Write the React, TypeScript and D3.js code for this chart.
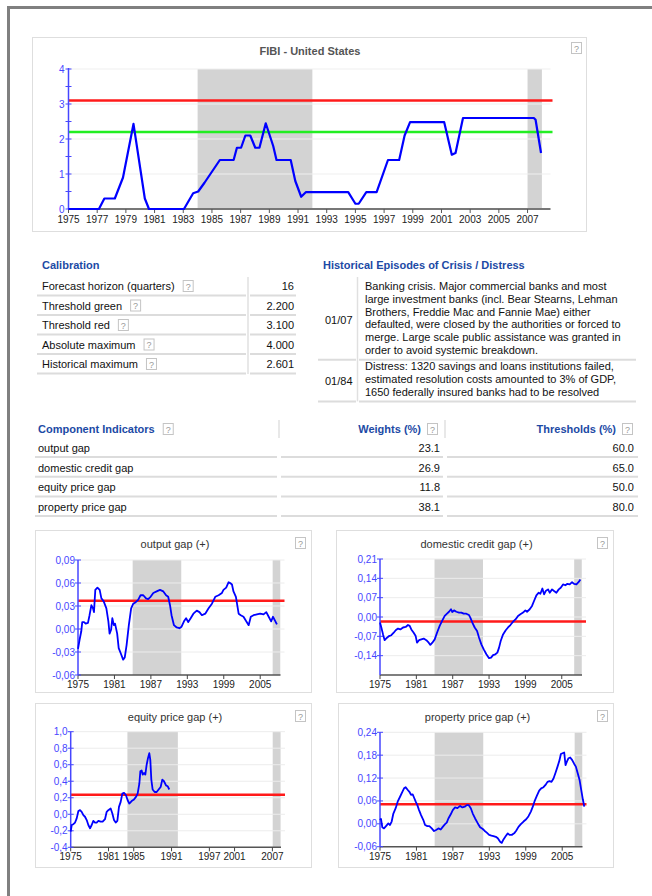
import React, { useEffect, useRef } from "react";
import * as d3 from "d3";

const W = 652;
const H = 896;
const FONT = "'Liberation Sans', Arial, Helvetica, sans-serif";
const HEAD_BLUE = "#1c4aa5";
const AXIS_BLUE = "#4646ff";
const SHADE = "#d3d3d3";

// FIBI composite indicator (United States)
const fibiYears = [1975, 1977.12, 1977.5, 1978.23, 1978.8, 1979.53, 1980.32, 1980.61, 1983.05, 1983.69, 1984.04, 1984.48, 1985.55, 1986.51, 1986.74, 1987.03, 1987.33, 1987.67, 1988.02, 1988.31, 1988.75, 1989.27, 1989.5, 1990.49, 1990.81, 1991.22, 1991.54, 1994.5, 1995.0, 1995.23, 1995.76, 1996.48, 1997.27, 1998.05, 1998.43, 1998.81, 2001.19, 2001.72, 2001.98, 2002.5, 2007.44, 2007.56, 2007.94];
const fibiValues = [0, 0, 0.3, 0.3, 0.9, 2.43, 0.3, 0, 0, 0.45, 0.5, 0.75, 1.4, 1.4, 1.75, 1.75, 2.1, 2.1, 1.75, 1.75, 2.45, 1.8, 1.4, 1.4, 0.8, 0.35, 0.48, 0.48, 0.15, 0.15, 0.48, 0.48, 1.4, 1.4, 2.1, 2.48, 2.48, 1.55, 1.6, 2.6, 2.6, 2.55, 1.6];
const fibiGreen = 2.2;
const fibiRed = 3.1;
const fibiYTicks = [0, 1, 2, 3, 4];
const fibiXTicks = [1975, 1977, 1979, 1981, 1983, 1985, 1987, 1989, 1991, 1993, 1995, 1997, 1999, 2001, 2003, 2005, 2007];
const mainCrisisStart = [1984, 2007];
const mainCrisisEnd = [1992, 2008];
const gapCrisisStart = [1984, 2007.05];
const gapCrisisEnd = [1992, 2008.3];

// calibration table
const calibLabels = ["Forecast horizon (quarters)", "Threshold green", "Threshold red", "Absolute maximum", "Historical maximum"];
const calibValues = ["16", "2.200", "3.100", "4.000", "2.601"];

// historical episodes
const episodeDates = ["01/07", "01/84"];
const episodeLines = [
  [
    "Banking crisis. Major commercial banks and most",
    "large investment banks (incl. Bear Stearns, Lehman",
    "Brothers, Freddie Mac and Fannie Mae) either",
    "defaulted, were closed by the authorities or forced to",
    "merge. Large scale public assistance was granted in",
    "order to avoid systemic breakdown.",
  ],
  [
    "Distress: 1320 savings and loans institutions failed,",
    "estimated resolution costs amounted to 3% of GDP,",
    "1650 federally insured banks had to be resolved",
  ],
];

// component indicators
const componentNames = ["output gap", "domestic credit gap", "equity price gap", "property price gap"];
const componentWeights = [23.1, 26.9, 11.8, 38.1];
const componentThresholds = [60.0, 65.0, 50.0, 80.0];

// output gap
const ogYears = [1975.0, 1975.26, 1975.54, 1975.7, 1976.0, 1976.26, 1976.64, 1976.9, 1977.2, 1977.47, 1977.63, 1977.85, 1978.2, 1978.57, 1978.85, 1979.23, 1979.67, 1980.0, 1980.2, 1980.45, 1980.65, 1980.9, 1981.1, 1981.45, 1981.7, 1982.05, 1982.43, 1982.7, 1983.0, 1983.37, 1983.75, 1984.1, 1984.5, 1984.9, 1985.3, 1985.75, 1986.2, 1986.55, 1986.95, 1987.4, 1987.95, 1988.5, 1989.05, 1989.5, 1989.85, 1990.15, 1990.4, 1990.8, 1991.25, 1991.7, 1992.05, 1992.45, 1992.8, 1993.15, 1993.55, 1994.0, 1994.55, 1995.0, 1995.4, 1995.95, 1996.5, 1997.05, 1997.6, 1998.15, 1998.7, 1998.95, 1999.4, 1999.8, 2000.05, 2000.35, 2000.6, 2001.0, 2001.45, 2001.8, 2002.25, 2002.7, 2003.1, 2003.45, 2003.9, 2004.45, 2005.0, 2005.55, 2006.0, 2006.4, 2006.8, 2007.1, 2007.5, 2007.75];
const ogValues = [-0.026, -0.014, -0.003, 0.009, 0.009, 0.007, 0.008, 0.018, 0.031, 0.027, 0.022, 0.051, 0.054, 0.051, 0.040, 0.036, 0.027, 0.010, -0.006, -0.001, 0.014, 0.005, 0.007, -0.006, -0.025, -0.032, -0.040, -0.037, -0.021, 0.005, 0.027, 0.033, 0.035, 0.038, 0.044, 0.044, 0.040, 0.039, 0.042, 0.047, 0.049, 0.051, 0.049, 0.044, 0.042, 0.031, 0.018, 0.005, 0.002, 0.001, 0.003, 0.010, 0.014, 0.009, 0.014, 0.020, 0.024, 0.022, 0.018, 0.020, 0.027, 0.033, 0.042, 0.044, 0.047, 0.051, 0.054, 0.061, 0.060, 0.058, 0.049, 0.042, 0.020, 0.018, 0.016, 0.010, 0.005, 0.016, 0.018, 0.019, 0.020, 0.019, 0.022, 0.016, 0.010, 0.016, 0.010, 0.006];
const ogThreshold = 0.037;
const ogYTicks = [-0.06, -0.03, 0, 0.03, 0.06, 0.09];

// domestic credit gap
const dcYears = [1975.0, 1975.22, 1975.5, 1975.77, 1976.16, 1976.49, 1976.87, 1977.26, 1977.59, 1977.97, 1978.36, 1978.8, 1979.24, 1979.62, 1979.9, 1980.17, 1980.56, 1980.89, 1981.11, 1981.44, 1981.82, 1982.21, 1982.65, 1983.04, 1983.31, 1983.64, 1984.03, 1984.41, 1984.85, 1985.29, 1985.68, 1986.06, 1986.39, 1986.72, 1986.94, 1987.22, 1987.6, 1988.04, 1988.43, 1988.81, 1989.25, 1989.69, 1989.91, 1990.24, 1990.63, 1991.02, 1991.35, 1991.73, 1992.12, 1992.56, 1993.0, 1993.33, 1993.66, 1994.04, 1994.37, 1994.65, 1994.92, 1995.31, 1995.75, 1996.13, 1996.52, 1996.96, 1997.4, 1997.78, 1998.17, 1998.61, 1998.99, 1999.27, 1999.71, 2000.09, 2000.42, 2000.81, 2001.2, 2001.47, 2001.8, 2002.08, 2002.35, 2002.74, 2003.01, 2003.4, 2003.73, 2004.11, 2004.5, 2004.83, 2005.21, 2005.6, 2005.93, 2006.31, 2006.7, 2007.03, 2007.42, 2007.8, 2008.07];
const dcValues = [-0.020, -0.038, -0.063, -0.084, -0.075, -0.069, -0.066, -0.057, -0.048, -0.042, -0.045, -0.038, -0.036, -0.029, -0.032, -0.045, -0.057, -0.069, -0.093, -0.084, -0.081, -0.078, -0.084, -0.093, -0.101, -0.093, -0.081, -0.057, -0.032, -0.012, 0.004, 0.012, 0.019, 0.028, 0.018, 0.024, 0.019, 0.016, 0.016, 0.012, 0.012, 0.007, -0.002, -0.020, -0.038, -0.051, -0.075, -0.099, -0.117, -0.135, -0.149, -0.147, -0.138, -0.135, -0.129, -0.111, -0.087, -0.063, -0.048, -0.038, -0.029, -0.017, -0.008, 0.004, 0.010, 0.016, 0.024, 0.019, 0.028, 0.040, 0.058, 0.078, 0.088, 0.084, 0.103, 0.082, 0.094, 0.100, 0.088, 0.100, 0.094, 0.088, 0.100, 0.106, 0.118, 0.115, 0.120, 0.118, 0.126, 0.120, 0.118, 0.127, 0.136];
const dcThreshold = -0.016;
const dcYTicks = [-0.14, -0.07, 0, 0.07, 0.14, 0.21];

// equity price gap
const eqYears = [1975.0, 1975.16, 1975.42, 1975.69, 1975.95, 1976.22, 1976.48, 1976.74, 1977.01, 1977.27, 1977.54, 1977.8, 1978.07, 1978.33, 1978.59, 1978.86, 1979.12, 1979.39, 1979.76, 1980.07, 1980.44, 1980.71, 1980.97, 1981.34, 1981.61, 1981.87, 1982.14, 1982.4, 1982.66, 1982.93, 1983.19, 1983.46, 1983.77, 1984.04, 1984.3, 1984.67, 1985.04, 1985.36, 1985.62, 1985.89, 1986.05, 1986.26, 1986.42, 1986.63, 1986.84, 1987.05, 1987.26, 1987.47, 1987.63, 1987.79, 1988.0, 1988.32, 1988.64, 1988.95, 1989.27, 1989.53, 1989.8, 1990.12, 1990.38, 1990.64];
const eqValues = [-0.21, -0.13, -0.12, -0.10, -0.05, 0.04, 0.05, 0.03, -0.01, -0.03, -0.07, -0.13, -0.17, -0.13, -0.08, -0.10, -0.10, -0.08, -0.09, -0.09, -0.06, 0.03, 0.05, 0.07, 0.01, -0.07, -0.10, -0.08, 0.09, 0.15, 0.25, 0.26, 0.23, 0.17, 0.13, 0.16, 0.18, 0.21, 0.25, 0.37, 0.52, 0.53, 0.48, 0.50, 0.48, 0.60, 0.68, 0.74, 0.66, 0.42, 0.30, 0.27, 0.27, 0.30, 0.33, 0.42, 0.40, 0.35, 0.34, 0.30];
const eqThreshold = 0.235;
const eqYTicks = [-0.4, -0.2, 0, 0.2, 0.4, 0.6, 0.8, 1.0];

// property price gap
const ppYears = [1975.0, 1975.16, 1975.38, 1975.66, 1975.99, 1976.37, 1976.65, 1976.92, 1977.2, 1977.58, 1977.91, 1978.3, 1978.68, 1978.96, 1979.23, 1979.51, 1979.84, 1980.11, 1980.38, 1980.6, 1980.88, 1981.15, 1981.43, 1981.76, 1982.14, 1982.42, 1982.8, 1983.13, 1983.52, 1983.9, 1984.23, 1984.62, 1985.0, 1985.33, 1985.71, 1985.99, 1986.26, 1986.65, 1986.98, 1987.36, 1987.75, 1988.19, 1988.57, 1988.96, 1989.29, 1989.62, 1989.95, 1990.27, 1990.66, 1991.04, 1991.48, 1991.87, 1992.2, 1992.58, 1992.97, 1993.35, 1993.68, 1994.07, 1994.4, 1994.78, 1995.05, 1995.33, 1995.71, 1996.04, 1996.32, 1996.7, 1997.09, 1997.42, 1997.8, 1998.19, 1998.63, 1999.07, 1999.45, 1999.84, 2000.16, 2000.49, 2000.82, 2001.21, 2001.54, 2001.92, 2002.25, 2002.58, 2002.91, 2003.24, 2003.57, 2003.9, 2004.23, 2004.56, 2004.78, 2005.05, 2005.33, 2005.55, 2005.77, 2006.04, 2006.32, 2006.65, 2006.98, 2007.25, 2007.53, 2007.86, 2008.13, 2008.41, 2008.63];
const ppValues = [0.010, 0.013, -0.009, -0.012, -0.006, 0.001, -0.003, 0.006, 0.027, 0.041, 0.058, 0.071, 0.084, 0.093, 0.096, 0.090, 0.084, 0.076, 0.077, 0.069, 0.058, 0.049, 0.036, 0.023, 0.010, -0.003, -0.006, -0.006, -0.012, -0.019, -0.016, -0.012, -0.015, -0.008, -0.001, 0.003, 0.014, 0.025, 0.036, 0.043, 0.041, 0.047, 0.043, 0.045, 0.049, 0.049, 0.041, 0.027, 0.014, 0.003, -0.009, -0.013, -0.018, -0.023, -0.029, -0.031, -0.032, -0.034, -0.038, -0.047, -0.050, -0.041, -0.032, -0.025, -0.029, -0.029, -0.025, -0.018, -0.008, -0.001, 0.006, 0.012, 0.020, 0.032, 0.045, 0.061, 0.073, 0.087, 0.093, 0.096, 0.102, 0.110, 0.112, 0.110, 0.119, 0.134, 0.150, 0.167, 0.183, 0.185, 0.187, 0.154, 0.163, 0.172, 0.174, 0.167, 0.157, 0.150, 0.134, 0.115, 0.089, 0.063, 0.045];
const ppThreshold = 0.051;
const ppYTicks = [-0.06, 0, 0.06, 0.12, 0.18, 0.24];

const gapXTicks = [1975, 1981, 1987, 1993, 1999, 2005];
const eqXTicks = [1975, 1981, 1985, 1991, 1997, 2001, 2007];

const commaLocale = d3.formatLocale({ decimal: ",", thousands: ".", grouping: [3], currency: ["", ""], minus: "-" });

interface GapPanel {
  title: string;
  years: number[];
  values: number[];
  threshold: number;
  yDomain: [number, number];
  yTicks: number[];
  yFormat: string;
  xTicks: number[];
  box: { x: number; y: number; w: number; h: number };
  plot: { left: number; right: number; top: number; bottom: number };
}

const panels: GapPanel[] = [
  { title: "output gap (+)", years: ogYears, values: ogValues, threshold: ogThreshold, yDomain: [-0.06, 0.09], yTicks: ogYTicks, yFormat: ".2f", xTicks: gapXTicks,
    box: { x: 35, y: 530, w: 276, h: 162 }, plot: { left: 78, right: 284.5, top: 560, bottom: 675 } },
  { title: "domestic credit gap (+)", years: dcYears, values: dcValues, threshold: dcThreshold, yDomain: [-0.21, 0.21], yTicks: dcYTicks, yFormat: ".2f", xTicks: gapXTicks,
    box: { x: 336, y: 530, w: 277, h: 162 }, plot: { left: 380, right: 586, top: 559, bottom: 675 } },
  { title: "equity price gap (+)", years: eqYears, values: eqValues, threshold: eqThreshold, yDomain: [-0.4, 1.0], yTicks: eqYTicks, yFormat: ".1f", xTicks: eqXTicks,
    box: { x: 35, y: 703, w: 276, h: 164 }, plot: { left: 70.7, right: 285, top: 731.7, bottom: 847.3 } },
  { title: "property price gap (+)", years: ppYears, values: ppValues, threshold: ppThreshold, yDomain: [-0.06, 0.24], yTicks: ppYTicks, yFormat: ".2f", xTicks: gapXTicks,
    box: { x: 338, y: 703, w: 275, h: 164 }, plot: { left: 380, right: 586.5, top: 732.3, bottom: 846.7 } },
];

export default function App() {
  const svgRef = useRef<SVGSVGElement | null>(null);

  useEffect(() => {
    if (!svgRef.current) return;
    const svg = d3.select(svgRef.current);
    svg.selectAll("*").remove();

    // page frame
    svg.append("rect").attr("x", 7).attr("y", 6).attr("width", 3).attr("height", H - 6).attr("fill", "#808080");
    svg.append("rect").attr("x", 7).attr("y", 6).attr("width", W - 7).attr("height", 3).attr("fill", "#808080");

    const helpIcon = (x: number, y: number) => {
      const g = svg.append("g").attr("transform", `translate(${x},${y})`);
      g.append("rect").attr("x", 0.5).attr("y", 0.5).attr("width", 10).attr("height", 11)
        .attr("fill", "#fff").attr("stroke", "#c4c4c4");
      g.append("text").attr("x", 5.5).attr("y", 9.5).attr("text-anchor", "middle")
        .attr("font-size", 9).attr("fill", "#999").text("?");
    };

    const hline = (x1: number, x2: number, y: number, color = "#dcdcdc", w = 2) =>
      svg.append("line").attr("x1", x1).attr("x2", x2).attr("y1", y).attr("y2", y)
        .attr("stroke", color).attr("stroke-width", w);
    const vline = (x: number, y1: number, y2: number, color = "#e0e0e0", w = 1.5) =>
      svg.append("line").attr("x1", x).attr("x2", x).attr("y1", y1).attr("y2", y2)
        .attr("stroke", color).attr("stroke-width", w);

    // ---------- main FIBI chart ----------
    svg.append("rect").attr("x", 32.5).attr("y", 37.5).attr("width", 554).attr("height", 194)
      .attr("fill", "#fff").attr("stroke", "#dedede");
    svg.append("text").attr("x", 310).attr("y", 55).attr("text-anchor", "middle")
      .attr("font-size", 11).attr("font-weight", "bold").attr("fill", "#555").text("FIBI - United States");
    helpIcon(571, 42);

    const mx = d3.scaleLinear().domain([1975, 2008.6]).range([68.5, 550.5]);
    const my = d3.scaleLinear().domain([0, 4]).range([209, 69]);

    mainCrisisStart.forEach((s, i) => {
      svg.append("rect").attr("x", mx(s)).attr("y", my(4)).attr("width", mx(mainCrisisEnd[i]) - mx(s))
        .attr("height", my(0) - my(4)).attr("fill", SHADE);
    });
    fibiYTicks.filter((t) => t > 0).forEach((t) => hline(mx(1975), mx.range()[1], my(t), "#efefef", 1));

    hline(mx(1975), mx.range()[1] + 2, my(fibiRed), "#ff1a1a", 2.5);
    hline(mx(1975), mx.range()[1] + 2, my(fibiGreen), "#22ee22", 2.5);

    // x axis
    hline(mx(1975), mx.range()[1], my(0), "#777", 2);
    fibiXTicks.forEach((t) => {
      svg.append("line").attr("x1", mx(t)).attr("x2", mx(t)).attr("y1", my(0)).attr("y2", my(0) + 4)
        .attr("stroke", "#555").attr("stroke-width", 1);
      svg.append("text").attr("x", mx(t)).attr("y", my(0) + 14).attr("text-anchor", "middle")
        .attr("font-size", 10).attr("fill", "#222").text(String(t));
    });
    // y axis
    vline(mx(1975), my(0), my(4) - 1, AXIS_BLUE, 1.5);
    d3.range(0, 4.01, 0.5).forEach((t) => {
      svg.append("line").attr("x1", mx(1975) - 3).attr("x2", mx(1975) + 3).attr("y1", my(t)).attr("y2", my(t))
        .attr("stroke", AXIS_BLUE).attr("stroke-width", 1);
    });
    fibiYTicks.forEach((t) => {
      svg.append("text").attr("x", mx(1975) - 4).attr("y", my(t) + 3.5).attr("text-anchor", "end")
        .attr("font-size", 10).attr("fill", AXIS_BLUE).text(String(t));
    });

    const fibiLine = d3.line<number>().x((d, i) => mx(fibiYears[i])).y((d) => my(d));
    svg.append("path").datum(fibiValues).attr("d", fibiLine).attr("fill", "none")
      .attr("stroke", "#0000ff").attr("stroke-width", 2.2).attr("stroke-linejoin", "round");

    // ---------- calibration ----------
    const rowH = 19.5;
    svg.append("text").attr("x", 42).attr("y", 269).attr("font-size", 11).attr("font-weight", "bold")
      .attr("fill", HEAD_BLUE).text("Calibration");
    vline(248, 277, 286 + 4 * rowH + 10);
    calibLabels.forEach((lab, i) => {
      const cy = 286 + i * rowH;
      const t = svg.append("text").attr("x", 42).attr("y", cy + 4).attr("font-size", 11).attr("fill", "#111").text(lab);
      const w = (t.node() as SVGTextElement).getComputedTextLength();
      helpIcon(42 + w + 8, cy - 6);
      svg.append("text").attr("x", 294).attr("y", cy + 4).attr("text-anchor", "end")
        .attr("font-size", 11).attr("fill", "#111").text(calibValues[i]);
      hline(37, 246, cy + 9.5);
      hline(250, 296, cy + 9.5);
    });

    // ---------- historical episodes ----------
    svg.append("text").attr("x", 323).attr("y", 269).attr("font-size", 11).attr("font-weight", "bold")
      .attr("fill", HEAD_BLUE).text("Historical Episodes of Crisis / Distress");
    const epTop = [280, 360];
    const lineH = 12.8;
    let epBottom = 0;
    episodeDates.forEach((d, i) => {
      const lines = episodeLines[i];
      const top = epTop[i];
      const bottom = top + lines.length * lineH + 3;
      epBottom = bottom;
      svg.append("text").attr("x", 325).attr("y", (top + bottom) / 2 + 4).attr("font-size", 11)
        .attr("fill", "#111").text(d);
      lines.forEach((ln, j) => {
        svg.append("text").attr("x", 365).attr("y", top + 10 + j * lineH).attr("font-size", 11)
          .attr("fill", "#111").text(ln);
      });
      hline(318, 356, bottom);
      hline(359, 636, bottom);
    });
    vline(357.5, 277, epBottom);

    // ---------- component indicators ----------
    const headY = 429;
    const ch = svg.append("text").attr("x", 38).attr("y", headY + 4).attr("font-size", 11).attr("font-weight", "bold")
      .attr("fill", HEAD_BLUE).text("Component Indicators");
    helpIcon(38 + (ch.node() as SVGTextElement).getComputedTextLength() + 8, headY - 6);
    svg.append("text").attr("x", 421).attr("y", headY + 4).attr("text-anchor", "end").attr("font-size", 11)
      .attr("font-weight", "bold").attr("fill", HEAD_BLUE).text("Weights (%)");
    helpIcon(427, headY - 6);
    svg.append("text").attr("x", 616).attr("y", headY + 4).attr("text-anchor", "end").attr("font-size", 11)
      .attr("font-weight", "bold").attr("fill", HEAD_BLUE).text("Thresholds (%)");
    helpIcon(622, headY - 6);
    vline(279, 420, 438);
    vline(445, 420, 438);
    const fmt1 = d3.format(".1f");
    componentNames.forEach((n, i) => {
      const cy = 448 + i * 19.7;
      svg.append("text").attr("x", 38).attr("y", cy + 4).attr("font-size", 11).attr("fill", "#111").text(n);
      svg.append("text").attr("x", 440).attr("y", cy + 4).attr("text-anchor", "end").attr("font-size", 11)
        .attr("fill", "#111").text(fmt1(componentWeights[i]));
      svg.append("text").attr("x", 634).attr("y", cy + 4).attr("text-anchor", "end").attr("font-size", 11)
        .attr("fill", "#111").text(fmt1(componentThresholds[i]));
      hline(35, 277, cy + 9);
      hline(281, 443, cy + 9);
      hline(447, 638, cy + 9);
    });

    // ---------- component gap charts ----------
    panels.forEach((p) => {
      const { box, plot } = p;
      svg.append("rect").attr("x", box.x + 0.5).attr("y", box.y + 0.5).attr("width", box.w).attr("height", box.h)
        .attr("fill", "#fff").attr("stroke", "#dedede");
      svg.append("text").attr("x", box.x + box.w / 2 + 2).attr("y", box.y + 18).attr("text-anchor", "middle")
        .attr("font-size", 11).attr("fill", "#333").text(p.title);
      helpIcon(box.x + box.w - 16, box.y + 7);

      const x = d3.scaleLinear().domain([1975, 2009]).range([plot.left, plot.right]);
      const y = d3.scaleLinear().domain(p.yDomain).range([plot.bottom, plot.top]);
      const f = commaLocale.format(p.yFormat);

      gapCrisisStart.forEach((s, i) => {
        svg.append("rect").attr("x", x(s)).attr("y", plot.top).attr("width", x(gapCrisisEnd[i]) - x(s))
          .attr("height", plot.bottom - plot.top).attr("fill", SHADE);
      });
      p.yTicks.filter((t) => y(t) < plot.bottom - 1).forEach((t) => hline(plot.left, plot.right, y(t), "#ececec", 1));

      hline(plot.left, plot.right, y(p.threshold), "#ff1a1a", 2.5);

      // x axis
      hline(plot.left, plot.right - 4, plot.bottom, "#555", 1.5);
      p.xTicks.forEach((t) => {
        svg.append("line").attr("x1", x(t)).attr("x2", x(t)).attr("y1", plot.bottom).attr("y2", plot.bottom + 4)
          .attr("stroke", "#444").attr("stroke-width", 1);
        svg.append("text").attr("x", x(t)).attr("y", plot.bottom + 13).attr("text-anchor", "middle")
          .attr("font-size", 10).attr("fill", "#222").text(String(t));
      });
      // y axis
      vline(plot.left, plot.bottom, plot.top, AXIS_BLUE, 1.5);
      p.yTicks.forEach((t) => {
        svg.append("line").attr("x1", plot.left - 3).attr("x2", plot.left + 3).attr("y1", y(t)).attr("y2", y(t))
          .attr("stroke", AXIS_BLUE).attr("stroke-width", 1);
        svg.append("text").attr("x", plot.left - 3).attr("y", y(t) + 3.5).attr("text-anchor", "end")
          .attr("font-size", 10).attr("fill", AXIS_BLUE).text(f(t));
      });

      const line = d3.line<number>().x((d, i) => x(p.years[i])).y((d) => y(d));
      svg.append("path").datum(p.values).attr("d", line).attr("fill", "none")
        .attr("stroke", "#0000ff").attr("stroke-width", 1.8).attr("stroke-linejoin", "round");
    });
  }, []);

  return (
    <svg
      ref={svgRef}
      width={W}
      height={H}
      style={{ position: "absolute", left: 0, top: 0, background: "#fff", fontFamily: FONT }}
    />
  );
}
